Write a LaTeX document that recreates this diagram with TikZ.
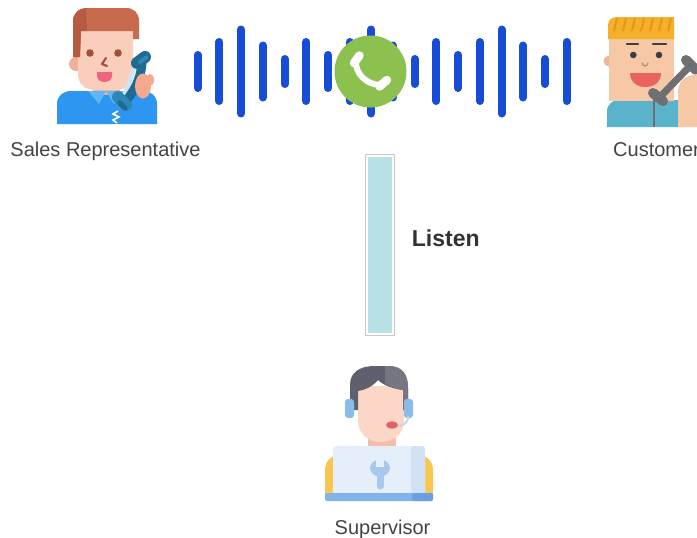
\documentclass[tikz,border=0pt]{standalone}
\usepackage{fontspec}
\setmainfont{Liberation Sans}

% palette
\definecolor{wave}{RGB}{23,76,214}
\definecolor{callGreen}{RGB}{140,193,80}
\definecolor{barFill}{RGB}{184,226,230}
\definecolor{barEdge}{RGB}{200,200,200}
\definecolor{textGrey}{RGB}{68,68,68}
\definecolor{textDark}{RGB}{51,51,51}
% sales representative
\definecolor{repHair}{RGB}{199,106,78}
\definecolor{repHairDark}{RGB}{182,90,68}
\definecolor{repSkin}{RGB}{250,206,188}
\definecolor{repSkinDark}{RGB}{240,175,150}
\definecolor{repHand}{RGB}{244,169,143}
\definecolor{repEye}{RGB}{160,82,62}
\definecolor{repMouth}{RGB}{240,100,125}
\definecolor{repShirt}{RGB}{44,150,240}
\definecolor{repCollar}{RGB}{95,182,248}
\definecolor{repPhone}{RGB}{30,108,148}
\definecolor{repPhoneLight}{RGB}{46,136,180}
\definecolor{repPhoneEdge}{RGB}{205,230,245}
% customer
\definecolor{custHair}{RGB}{245,176,42}
\definecolor{custHairStripe}{RGB}{230,148,30}
\definecolor{custSkin}{RGB}{246,200,166}
\definecolor{custEar}{RGB}{238,184,150}
\definecolor{custEye}{RGB}{62,62,62}
\definecolor{custMouth}{RGB}{232,100,92}
\definecolor{custShirt}{RGB}{90,178,205}
\definecolor{custPhone}{RGB}{110,110,115}
% supervisor
\definecolor{supHair}{RGB}{95,95,110}
\definecolor{supHairLight}{RGB}{118,118,130}
\definecolor{supSkin}{RGB}{252,214,198}
\definecolor{supNeck}{RGB}{246,190,170}
\definecolor{supHeadset}{RGB}{140,186,235}
\definecolor{supMicArm}{RGB}{200,215,232}
\definecolor{supMic}{RGB}{222,100,105}
\definecolor{supBody}{RGB}{249,199,79}
\definecolor{supScreen}{RGB}{228,239,251}
\definecolor{supScreenShade}{RGB}{210,226,245}
\definecolor{supWrench}{RGB}{168,200,238}
\definecolor{supBase}{RGB}{130,180,236}
\definecolor{supBaseDark}{RGB}{108,158,228}

\tikzset{
  lbl/.style={inner sep=0pt, text=textGrey, font=\fontsize{20}{24}\selectfont},
  boldlbl/.style={inner sep=0pt, text=textDark, font=\fontsize{23}{27}\selectfont\bfseries},
  wavebar/.style={draw=wave, line width=8pt, line cap=round},
  fat/.style={line cap=round, line join=round}
}

\begin{document}
\begin{tikzpicture}[x=1pt,y=-1pt]
\useasboundingbox (0,0) rectangle (697,538);
\fill[white] (0,0) rectangle (697,538);

% ---------- sound wave bars ----------
\foreach \i/\h in {1/20.5,2/33.5,3/46,4/30,5/16.5,6/33.5,7/20.5,8/33.5,9/46,
                   10/30,11/16.5,12/33.5,13/20.5,14/33.5,15/46,16/30,17/16.5,18/33.5}{
  \pgfmathsetmacro{\bx}{197.7+21.7*(\i-1)}
  \pgfmathsetmacro{\ya}{71.5-\h+4}
  \pgfmathsetmacro{\yb}{71.5+\h-4}
  \draw[wavebar] (\bx,\ya) -- (\bx,\yb);
}

% ---------- call badge ----------
\node[circle, fill=callGreen, minimum size=72pt, inner sep=0pt] (callIcon) at (370.5,71.5) {};
\draw[white, fat, line width=8.5pt] (354,63) -- (359.5,55.5);
\draw[white, fat, line width=6pt] (356,61) .. controls (355,73) and (366,85) .. (381,85);
\draw[white, fat, line width=8.5pt] (379.5,86.5) -- (387,80);

% ---------- sales representative ----------
\fill[repShirt] (57,124) -- (57,104) .. controls (57,96) and (63,91) .. (71,91)
  -- (143,91) .. controls (151,91) and (157,96) .. (157,104) -- (157,124) -- cycle;
\fill[repSkinDark] (93,82) rectangle (120,95);
\fill[repCollar] (88,91) -- (106,91) -- (99,104) -- cycle;
\fill[repCollar] (106,91) -- (124,91) -- (114,104) -- cycle;
\fill[repSkinDark] (76,64) circle (7);
\fill[repSkin] (78,30) -- (133,30) -- (133,74) .. controls (133,84) and (126,90) .. (116,90)
  -- (95,90) .. controls (85,90) and (78,84) .. (78,74) -- cycle;
\fill[repHair] (73,57) -- (73,21) .. controls (73,13) and (79,8) .. (88,8) -- (126,8)
  .. controls (134,8) and (139,13) .. (139,21) -- (139,39) -- (133,39) -- (133,31)
  -- (81,31) -- (80,57) -- cycle;
\fill[repHairDark] (73,57) -- (73,21) .. controls (73,13) and (79,8) .. (88,8) -- (86,8)
  -- (87,31) -- (81,31) -- (80,57) -- cycle;
\fill[repEye] (90,53) circle (3.8);
\fill[repEye] (118,53) circle (3.8);
\draw[repEye, line width=2.2pt, fat] (106,58) -- (102,64) -- (107,66);
\fill[repMouth] (97,72) -- (112,72) -- (112,76) .. controls (112,80) and (108,82) .. (104.5,82)
  .. controls (101,82) and (97,80) .. (97,76) -- cycle;
% handset held against the face
\draw[repPhoneEdge, fat, line width=4pt] (133,70) .. controls (131,80) and (127,90) .. (121,99);
\draw[repPhone, fat, line width=9pt] (142,63) .. controls (141,78) and (134,92) .. (125,102);
\draw[repPhone, fat, line width=12pt] (137,63) -- (145,57);
\draw[repPhoneLight, fat, line width=4pt] (140,62) -- (146,57.5);
\draw[repPhoneLight, fat, line width=12pt] (118,97) -- (126,105);
\draw[repPhone, fat, line width=5pt] (120,103) -- (125,108);
\fill[repHand] (143,86) ellipse (8 and 12.5);
\fill[repHand] (150,80) ellipse (4 and 6);
\draw[white, line width=1.6pt] (118,111) -- (113,114) -- (119,117) -- (113,120) -- (117,123);

% ---------- customer ----------
\fill[custShirt] (607,127) -- (607,112) .. controls (607,104) and (612,100) .. (620,100)
  -- (680,100) -- (680,127) -- cycle;
\fill[custEar] (609,61) circle (5.5);
\fill[custSkin] (609,37) rectangle (674,101);
\fill[custHair] (608,39) -- (608,25) .. controls (608,20) and (612,17) .. (617,17)
  -- (674,17) -- (674,39) -- cycle;
\foreach \sx in {617,626,635,644,653,662,671}{
  \draw[custHairStripe, line width=2pt] (\sx,18) -- (\sx-3,31);
}
\draw[custEye, line width=2.6pt, fat] (627,44) -- (638,44);
\draw[custEye, line width=2.6pt, fat] (653,44) -- (666,44);
\fill[custEye] (633.3,55) circle (3.3);
\fill[custEye] (659,55) circle (3.3);
\draw[custEar!80!black, line width=1.5pt, fat] (642,63) .. controls (643,67) and (647,67) .. (648,63);
\fill[custMouth] (630,73) -- (661,73) .. controls (661,82) and (654,87) .. (645.5,87)
  .. controls (637,87) and (630,82) .. (630,73) -- cycle;
\draw[custPhone, line width=2pt] (654,100) -- (654,127);
\draw[custPhone, fat, line width=7pt] (689,67) -- (662,95);
\draw[custPhone, fat, line width=10pt] (686,60) -- (696,70);
\draw[custPhone, fat, line width=10pt] (653,93) -- (663,101);
\fill[custSkin] (678,127) -- (678,92) .. controls (678,82) and (684,76) .. (697,74) -- (697,127) -- cycle;

% ---------- supervisor ----------
\fill[supBody] (325,495) -- (325,470) .. controls (325,460) and (333,454) .. (343,454)
  -- (415,454) .. controls (425,454) and (433,460) .. (433,470) -- (433,495) -- cycle;
\fill[supNeck] (368,430) rectangle (396,456);
\fill[supSkin] (358,386) -- (404,386) -- (404,420) .. controls (404,434) and (394,442) .. (381,442)
  .. controls (368,442) and (358,434) .. (358,420) -- cycle;
\fill[supHair] (350,410) -- (350,385) .. controls (350,372) and (360,366) .. (375,366)
  -- (388,366) .. controls (402,366) and (408,374) .. (408,388) -- (408,410) -- (403,410)
  -- (403,390) .. controls (395,389) and (384,386) .. (378,380)
  .. controls (372,387) and (365,390) .. (358,391) -- (358,410) -- cycle;
\fill[supHairLight] (385,366) -- (388,366) .. controls (402,366) and (408,374) .. (408,388)
  -- (408,410) -- (403,410) -- (403,390) .. controls (395,389) and (388,386) .. (385,383) -- cycle;
\fill[supHeadset, rounded corners=3pt] (345,399) rectangle (354,418);
\fill[supHeadset, rounded corners=3pt] (404,399) rectangle (413,418);
\draw[supMicArm, line width=2pt, fat] (408,417) .. controls (408,424) and (402,426) .. (396,426);
\fill[supMic] (392,425) ellipse (6 and 3.6);
\fill[supScreen, rounded corners=3pt] (333,446) rectangle (425,495);
\fill[supScreenShade, rounded corners=3pt] (411,446) rectangle (425,495);
\fill[supWrench] (380,468) ellipse (10 and 8.5);
\fill[supScreen] (376,457) rectangle (384,467);
\draw[supWrench, fat, line width=7pt] (380,472) -- (380,486);
\fill[supBase, rounded corners=2pt] (325,493) rectangle (433,501);
\fill[supBaseDark, rounded corners=2pt] (412,493) rectangle (433,501);

% ---------- listen channel ----------
\node[draw=barEdge, line width=0.8pt, fill=white, minimum width=28.6pt, minimum height=181.4pt,
      inner sep=0pt] (listenBar) at (380,245) {};
\node[fill=barFill, minimum width=24pt, minimum height=176.8pt, inner sep=0pt]
      (listenFill) at (listenBar.center) {};

% ---------- labels ----------
\node[lbl, anchor=base] (repLabel) at (105.5,156.7) {Sales Representative};
\node[lbl, anchor=base west] (custLabel) at (613,156.7) {Customer};
\node[lbl, anchor=base] (supLabel) at (382.5,534.3) {Supervisor};
\node[boldlbl, anchor=base west] (listenLabel) at (411.7,246.5) {Listen};
\end{tikzpicture}
\end{document}
